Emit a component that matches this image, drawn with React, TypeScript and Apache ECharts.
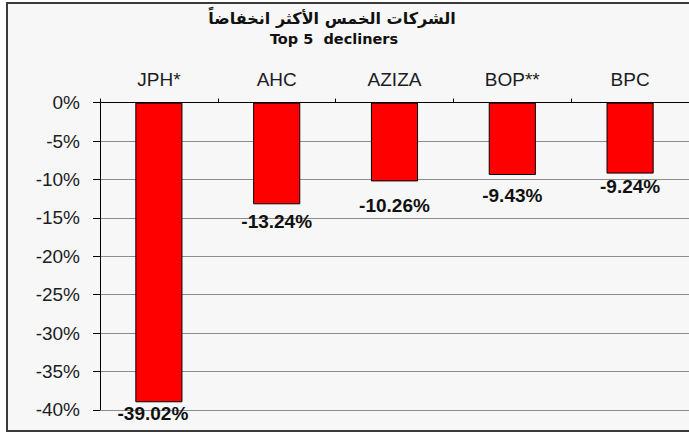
import React, { useEffect, useRef } from "react";
import * as echarts from "echarts";

const categories = ["JPH*", "AHC", "AZIZA", "BOP**", "BPC"];
const changes = [-39.02, -13.24, -10.26, -9.43, -9.24];
const titleArabic = "الشركات الخمس الأكثر انخفاضاً";
const titleEnglish = "Top 5  decliners";

// label placement tweaks (style only), as in the reference
const labelDistances = [2, 8, 15, 11, 3];
const labelShiftX = [-6, 0, 0, 0, 0];

export default function App() {
  const ref = useRef<HTMLDivElement>(null);
  useEffect(() => {
    if (!ref.current) return;
    const chart = echarts.init(ref.current, null, { renderer: "svg" });
    chart.setOption({
      animation: false,
      backgroundColor: "#ffffff",
      graphic: [
        {
          type: "rect",
          z: -10,
          silent: true,
          shape: { x: 7, y: 3, width: 700, height: 428 },
          style: { fill: "#f7f7f7", stroke: "#3a3a3a", lineWidth: 2 },
        },
        {
          type: "text",
          x: 332,
          y: 18,
          style: {
            text: titleArabic,
            fontFamily: "DejaVu Sans",
            fontWeight: "bold",
            fontSize: 16,
            fill: "#111",
            align: "center",
            verticalAlign: "middle",
          },
        },
        {
          type: "text",
          x: 334,
          y: 39,
          style: {
            text: titleEnglish,
            fontFamily: "DejaVu Sans",
            fontWeight: "bold",
            fontSize: 14.5,
            fill: "#111",
            align: "center",
            verticalAlign: "middle",
          },
        },
      ],
      grid: { left: 100, top: 102.6, width: 592.5, height: 307.2 },
      xAxis: {
        type: "category",
        position: "top",
        data: categories,
        axisLine: { lineStyle: { color: "#000", width: 1 } },
        axisTick: { show: true, length: 4, lineStyle: { color: "#000" } },
        axisLabel: {
          margin: 14,
          fontFamily: "Liberation Sans",
          fontSize: 19,
          color: "#1c1c24",
        },
      },
      yAxis: {
        type: "value",
        min: -40,
        max: 0,
        interval: 5,
        axisLine: { show: true, lineStyle: { color: "#000", width: 1 } },
        axisTick: { show: true, length: 7, lineStyle: { color: "#000" } },
        axisLabel: {
          margin: 20,
          formatter: (v: number) => `${v}%`,
          fontFamily: "Liberation Sans",
          fontSize: 19,
          color: "#1c1c24",
        },
        splitLine: { show: true, lineStyle: { color: "#8c8c8c", width: 1 } },
      },
      series: [
        {
          type: "bar",
          data: changes.map((v, i) => ({
            value: v,
            label: { distance: labelDistances[i], offset: [labelShiftX[i], 0] },
          })),
          barWidth: "40%",
          itemStyle: { color: "#ff0000", borderColor: "#000", borderWidth: 1 },
          label: {
            show: true,
            position: "bottom",
            formatter: (p: any) => `${p.value.toFixed(2)}%`,
            fontFamily: "Liberation Sans",
            fontWeight: "bold",
            fontSize: 19,
            color: "#111",
          },
        },
      ],
    });
    return () => chart.dispose();
  }, []);
  return (
    <div
      ref={ref}
      style={{ position: "absolute", left: 0, top: 0, width: 689, height: 433 }}
    />
  );
}
